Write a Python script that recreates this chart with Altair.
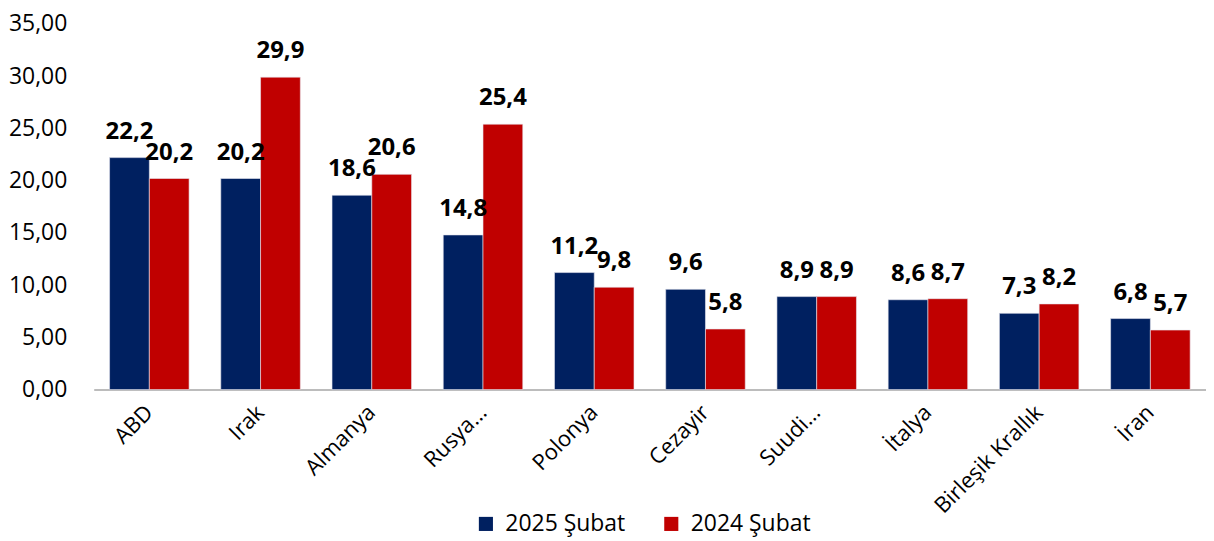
import altair as alt
import pandas as pd

countries = ["ABD", "Irak", "Almanya", "Rusya…", "Polonya", "Cezayir", "Suudi…", "İtalya", "Birleşik Krallık", "İran"]
series_names = ["2025 Şubat", "2024 Şubat"]
values_2025 = [22.2, 20.2, 18.6, 14.8, 11.2, 9.6, 8.9, 8.6, 7.3, 6.8]
values_2024 = [20.2, 29.9, 20.6, 25.4, 9.8, 5.8, 8.9, 8.7, 8.2, 5.7]
colors = ["#002060", "#C00000"]

rows = []
for c, a, b in zip(countries, values_2025, values_2024):
    rows.append({"country": c, "series": series_names[0], "value": a, "label": f"{a:.1f}".replace(".", ",")})
    rows.append({"country": c, "series": series_names[1], "value": b, "label": f"{b:.1f}".replace(".", ",")})
df = pd.DataFrame(rows)

FONT = "Open Sans"

x = alt.X("country:N", sort=countries, title=None,
          scale=alt.Scale(paddingInner=0.285, paddingOuter=0.1425),
          axis=alt.Axis(labelAngle=-45, labelAlign="right", labelBaseline="middle",
                        labelPadding=19, ticks=False, domainColor="#A6A6A6", domainWidth=1.5,
                        labelFont=FONT, labelFontSize=22, labelColor="#000000"))
xo = alt.XOffset("series:N", sort=series_names)

bars = alt.Chart(df).mark_bar(stroke="#E8E8F0", strokeWidth=0.6).encode(
    x=x, xOffset=xo,
    y=alt.Y("value:Q", title=None,
            scale=alt.Scale(domain=[0, 35]),
            axis=alt.Axis(values=[0, 5, 10, 15, 20, 25, 30, 35],
                          labelExpr="replace(format(datum.value, '.2f'), '.', ',')",
                          domain=False, ticks=False, grid=False, labelPadding=27,
                          labelFont=FONT, labelFontSize=23, labelColor="#000000")),
    color=alt.Color("series:N", sort=series_names,
                    scale=alt.Scale(domain=series_names, range=colors),
                    legend=alt.Legend(title=None, orient="none", direction="horizontal",
                                      legendX=382, legendY=490, symbolType="square", symbolSize=200,
                                      symbolStrokeWidth=0, labelFont=FONT, labelFontSize=23,
                                      labelColor="#000000", columnPadding=34, labelOffset=8)),
)

text = alt.Chart(df).mark_text(font=FONT, fontSize=24, fontWeight="bold", baseline="alphabetic",
                               dy=-19, color="#000000").encode(
    x=x, xOffset=xo, y="value:Q", text="label:N")

chart = (bars + text).properties(width=1116, height=367, padding={"left": 0, "top": 4, "right": 0, "bottom": 6}).configure_view(stroke=None)

chart.save("out.html", embed_options={"renderer": "svg", "actions": False})
